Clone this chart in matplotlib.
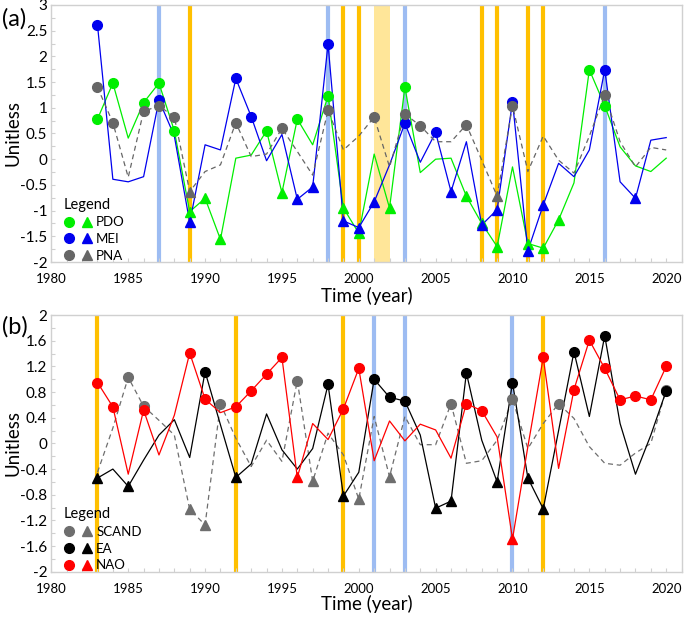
import matplotlib
matplotlib.use('Agg')
import matplotlib.pyplot as plt
import numpy as np
from matplotlib.lines import Line2D
from matplotlib.legend_handler import HandlerTuple
from matplotlib.ticker import MultipleLocator

plt.rcParams['font.family'] = ['Lato', 'DejaVu Sans']

years = np.arange(1983, 2021)

# panel (a)
pdo = [0.78, 1.48, 0.41, 1.10, 1.48, 0.55, -1.02, -0.76, -1.56, 0.02,
       0.08, 0.55, -0.65, 0.78, 0.28, 1.23, -0.95, -1.44, 0.10, -0.95,
       1.40, -0.26, 0.00, 0.02, -0.72, -1.25, -1.70, -0.15, -1.64, -1.73,
       -1.18, -0.46, 1.74, 1.04, 0.24, -0.13, -0.24, 0.02]
mei = [2.61, -0.39, -0.44, -0.34, 1.15, 0.45, -1.23, 0.28, 0.18, 1.57,
       0.83, -0.03, 0.48, -0.78, -0.54, 2.24, -1.20, -1.33, -0.83, -0.11,
       0.70, -0.06, 0.52, -0.63, 0.34, -1.28, -0.98, 1.12, -1.78, -0.89,
       -0.08, -0.34, 0.18, 1.74, -0.44, -0.76, 0.37, 0.42]
pna = [1.40, 0.71, -0.35, 0.93, 1.04, 0.82, -0.63, -0.24, -0.11, 0.71,
       0.05, 0.10, 0.60, 0.15, -0.31, 0.95, 0.18, 0.45, 0.82, -0.15,
       0.88, 0.65, 0.34, 0.34, 0.67, -0.02, -0.72, 1.04, -0.24, 0.45,
       -0.02, -0.27, 0.45, 1.25, 0.34, -0.15, 0.23, 0.18]

# panel (b)
nao = [0.95, 0.57, -0.48, 0.52, -0.18, 0.44, 1.41, 0.69, 0.48, 0.57,
       0.82, 1.08, 1.34, -0.53, 0.31, 0.06, 0.54, 1.17, -0.27, 0.35,
       0.04, 0.30, 0.21, -0.23, 0.62, 0.51, 0.10, -1.49, -0.05, 1.34,
       -0.39, 0.84, 1.61, 1.17, 0.68, 0.74, 0.68, 1.20]
ea = [-0.54, -0.40, -0.67, -0.26, 0.13, 0.37, -0.22, 1.12, 0.29, -0.53,
      -0.32, 0.46, -0.10, -0.40, -0.08, 0.92, -0.82, -0.45, 1.00, 0.72,
      0.66, 0.13, -1.01, -0.90, 1.10, 0.05, -0.60, 0.95, -0.54, -1.02,
      0.20, 1.43, 0.42, 1.68, 0.31, -0.48, 0.13, 0.82]
scand = [-0.45, 0.24, 1.03, 0.58, 0.36, 0.13, -1.03, -1.27, 0.62, 0.08,
         -0.36, 0.05, -0.28, 0.98, -0.59, 0.16, -0.18, -0.87, 0.42, -0.52,
         0.42, -0.02, -0.02, 0.62, -0.31, -0.27, 0.05, 0.69, -0.08, 0.31,
         0.62, 0.39, -0.05, -0.31, -0.34, -0.15, 0.00, 0.84]

blue_a = [1987, 1998, 2003, 2016]
orange_a = [1989, 1999, 2000, 2008, 2009, 2011, 2012]
band_a = (2001, 2002)
blue_b = [2001, 2003, 2010]
orange_b = [1983, 1992, 1999, 2012]

BLUE_V = '#9dbcf2'
ORANGE_V = '#ffc000'
BAND = '#ffe699'
THR = 0.5


def draw_series(ax, vals, color, dashed=False):
    vals = np.array(vals)
    ls = (0, (4, 3)) if dashed else '-'
    ax.plot(years, vals, color=color, linestyle=ls, linewidth=0.9, zorder=3)
    hi = vals >= THR
    lo = vals <= -THR
    ax.plot(years[hi], vals[hi], 'o', color=color, markersize=7, zorder=4)
    ax.plot(years[lo], vals[lo], '^', color=color, markersize=7.5, zorder=4)


def style_axes(ax, ymin, ymax, ystep, yfmt, xlab_y):
    ax.set_xlim(1980, 2021)
    ax.set_ylim(ymin, ymax)
    ax.xaxis.set_major_locator(MultipleLocator(5))
    ax.xaxis.set_minor_locator(MultipleLocator(1))
    ax.yaxis.set_major_locator(MultipleLocator(ystep))
    ax.yaxis.set_minor_locator(MultipleLocator(ystep / 2))
    ax.set_yticklabels([yfmt(v) for v in ax.get_yticks()])
    for s in ax.spines.values():
        s.set_color('#d0d0d0')
        s.set_linewidth(1.0)
    ax.tick_params(axis='both', which='both', direction='in', color='#d0d0d0',
                   length=3, width=0.8)
    ax.tick_params(axis='x', labelsize=9.5, pad=8)
    ax.tick_params(axis='y', labelsize=11, pad=3)
    ax.set_xlabel('Time (year)', fontsize=13.5)
    ax.set_ylabel('Unitless', fontsize=13.5)
    ax.yaxis.set_label_coords(-0.047, 0.5)
    ax.xaxis.set_label_coords(0.5, xlab_y)


def legend(ax, items):
    handles = []
    labels = []
    for name, col in items:
        c = Line2D([], [], marker='o', color=col, linestyle='none', markersize=7)
        t = Line2D([], [], marker='^', color=col, linestyle='none', markersize=7.5)
        handles.append((c, t))
        labels.append(name)
    leg = ax.legend(handles, labels, handler_map={tuple: HandlerTuple(ndivide=None, pad=0.6)},
                    loc='lower left', bbox_to_anchor=(0.0, -0.045), frameon=False,
                    title='Legend', fontsize=9.5, title_fontsize=10.5,
                    handlelength=2.2, handletextpad=0.3, labelspacing=0.35)
    leg._legend_box.align = 'left'


fig = plt.figure(figsize=(6.85, 6.18), dpi=100)
ax1 = fig.add_axes([0.075, 0.576, 0.920, 0.416])
ax2 = fig.add_axes([0.075, 0.075, 0.920, 0.415])

# (a)
for yv in blue_a:
    ax1.axvline(yv, color=BLUE_V, linewidth=3, zorder=1)
for yv in orange_a:
    ax1.axvline(yv, color=ORANGE_V, linewidth=3, zorder=1)
ax1.axvspan(band_a[0], band_a[1], color=BAND, linewidth=0, zorder=0)
draw_series(ax1, pdo, '#00ee00')
draw_series(ax1, mei, '#0000ee')
draw_series(ax1, pna, '#666666', dashed=True)
style_axes(ax1, -2, 3, 0.5, lambda v: ('%g' % v), -0.095)
legend(ax1, [('PDO', '#00ee00'), ('MEI', '#0000ee'), ('PNA', '#666666')])

# (b)
for yv in blue_b:
    ax2.axvline(yv, color=BLUE_V, linewidth=3, zorder=1)
for yv in orange_b:
    ax2.axvline(yv, color=ORANGE_V, linewidth=3, zorder=1)
draw_series(ax2, scand, '#6e6e6e', dashed=True)
draw_series(ax2, ea, '#000000')
draw_series(ax2, nao, '#ff0000')
style_axes(ax2, -2, 2, 0.4, lambda v: ('%g' % round(v, 1)), -0.09)
legend(ax2, [('SCAND', '#6e6e6e'), ('EA', '#000000'), ('NAO', '#ff0000')])

fig.text(0.003, 0.958, '(a)', fontsize=17)
fig.text(0.003, 0.46, '(b)', fontsize=17)

fig.savefig('out.png', dpi=100)
plt.close(fig)
